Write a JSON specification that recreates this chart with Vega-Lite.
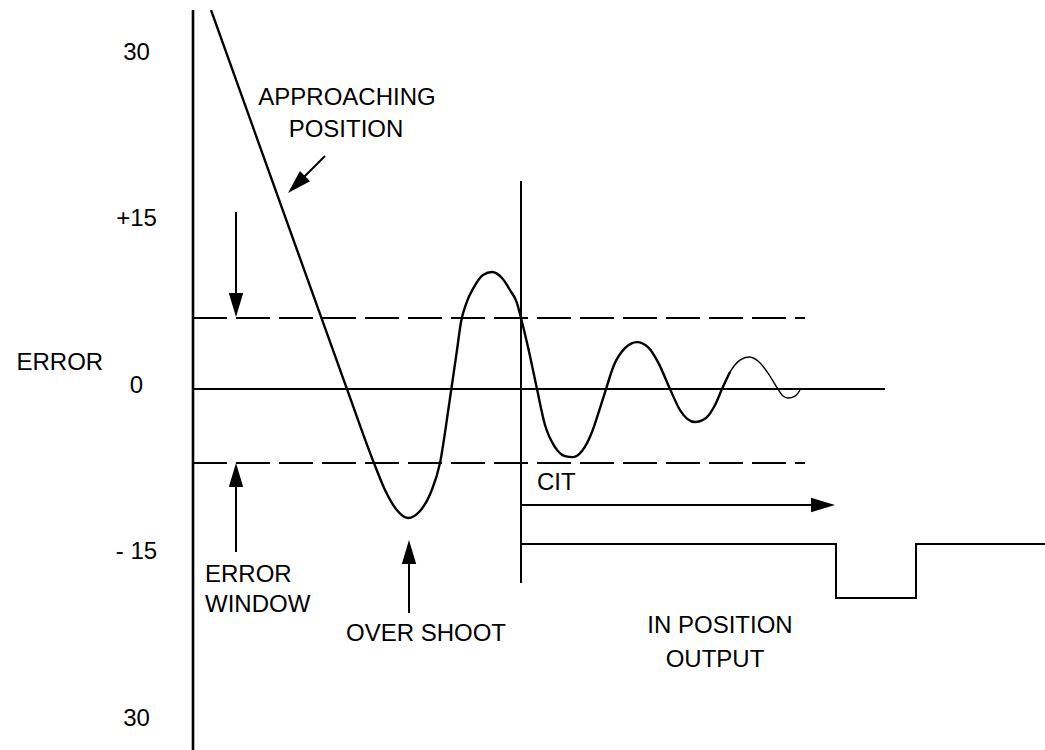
{
  "$schema": "https://vega.github.io/schema/vega-lite/v6.json",
  "autosize": {"type": "none"},
  "padding": {"left": 193, "top": 0, "right": 0, "bottom": 0},
  "width": 852,
  "height": 750,
  "background": "white",
  "config": {"view": {"stroke": null}, "font": "Liberation Sans"},
  "datasets": {
    "curveMain": [
      {"x": 1.8, "y": 34.14}, {"x": 9.8, "y": 14.05}, {"x": 15.4, "y": 0}, {"x": 18.1, "y": -6.67},
      {"x": 19.3, "y": -9.28}, {"x": 20.3, "y": -10.81}, {"x": 21.5, "y": -11.62}, {"x": 22.7, "y": -10.99},
      {"x": 23.8, "y": -9.28}, {"x": 24.7, "y": -6.67}, {"x": 25.6, "y": -1.44}, {"x": 26.4, "y": 3.51},
      {"x": 26.8, "y": 6.04}, {"x": 27.3, "y": 7.66}, {"x": 28.1, "y": 9.19}, {"x": 29.0, "y": 10.27},
      {"x": 29.9, "y": 10.54}, {"x": 30.9, "y": 10.0}, {"x": 31.7, "y": 8.92}, {"x": 32.4, "y": 7.75},
      {"x": 32.8, "y": 6.4}, {"x": 33.5, "y": 3.78}, {"x": 34.4, "y": 0}, {"x": 35.2, "y": -3.24},
      {"x": 36.2, "y": -5.23}, {"x": 37.2, "y": -6.04}, {"x": 38.0, "y": -6.13}, {"x": 38.9, "y": -5.59},
      {"x": 39.9, "y": -3.87}, {"x": 40.7, "y": -1.71}, {"x": 41.3, "y": 0}, {"x": 42.1, "y": 2.16},
      {"x": 43.2, "y": 3.69}, {"x": 44.4, "y": 4.23}, {"x": 45.5, "y": 3.78}, {"x": 46.5, "y": 2.43},
      {"x": 47.7, "y": 0}, {"x": 48.7, "y": -1.89}, {"x": 50.2, "y": -2.97}, {"x": 51.3, "y": -2.61},
      {"x": 52.2, "y": -1.44}, {"x": 52.9, "y": 0}, {"x": 53.7, "y": 1.53}
    ],
    "curveTail": [
      {"x": 52.9, "y": 0}, {"x": 53.7, "y": 1.53}, {"x": 54.7, "y": 2.61}, {"x": 55.6, "y": 2.88},
      {"x": 56.5, "y": 2.52}, {"x": 57.5, "y": 1.44}, {"x": 58.5, "y": 0}, {"x": 59.0, "y": -0.63},
      {"x": 59.5, "y": -0.81}, {"x": 60.2, "y": -0.63}, {"x": 60.7, "y": -0.09}
    ],
    "vRules": [
      {"x": 0, "y": 34.14, "y2": -32.52, "w": 2.6},
      {"x": 32.8, "y": 18.74, "y2": -17.48, "w": 2},
      {"x": 4.3, "y": 15.95, "y2": 8.0, "w": 2},
      {"x": 4.3, "y": -14.68, "y2": -8.0, "w": 2},
      {"x": 21.6, "y": -20.18, "y2": -15.0, "w": 2}
    ],
    "hRules": [
      {"x": 0, "x2": 69.2, "y": 0},
      {"x": 32.8, "x2": 62.0, "y": -10.45}
    ],
    "dashRules": [
      {"x": 0, "x2": 61.2, "y": 6.4},
      {"x": 0, "x2": 61.2, "y": -6.67}
    ],
    "diagRules": [
      {"x": 13.2, "x2": 10.4, "y": 20.99, "y2": 18.47}
    ],
    "output": [
      {"i": 1, "x": 32.8, "y": -13.96},
      {"i": 2, "x": 64.3, "y": -13.96},
      {"i": 3, "x": 64.3, "y": -18.83},
      {"i": 4, "x": 72.3, "y": -18.83},
      {"i": 5, "x": 72.3, "y": -13.96},
      {"i": 6, "x": 85.2, "y": -13.96}
    ],
    "heads": [
      {"x": 4.3, "y": 7.57, "angle": 180},
      {"x": 4.3, "y": -7.75, "angle": 0},
      {"x": 21.6, "y": -14.68, "angle": 0},
      {"x": 63.0, "y": -10.45, "angle": 90},
      {"x": 10.35, "y": 18.42, "angle": 225}
    ],
    "labelsCenter": [
      {"x": 15.4, "y": 25.59, "text": "APPROACHING"},
      {"x": 15.3, "y": 22.7, "text": "POSITION"},
      {"x": 23.3, "y": -22.7, "text": "OVER SHOOT"},
      {"x": 52.7, "y": -21.98, "text": "IN POSITION"},
      {"x": 52.2, "y": -25.05, "text": "OUTPUT"}
    ],
    "labelsLeft": [
      {"x": 1.2, "y": -17.39, "text": "ERROR"},
      {"x": 1.2, "y": -20.09, "text": "WINDOW"},
      {"x": 34.4, "y": -9.1, "text": "CIT"}
    ]
  },
  "encoding": {
    "x": {"field": "x", "type": "quantitative", "scale": {"domain": [0, 85.2], "nice": false, "zero": false}, "axis": null},
    "y": {
      "field": "y", "type": "quantitative",
      "scale": {"domain": [-32.52, 35.05], "nice": false, "zero": false},
      "axis": {
        "values": [30, 15, 0, -15, -30],
        "labelExpr": "datum.value == 30 ? '30' : datum.value == 15 ? '+15' : datum.value == 0 ? '0' : datum.value == -15 ? '- 15' : '30'",
        "domain": false, "ticks": false, "tickSize": 0, "grid": false,
        "labelFont": "Liberation Sans", "labelFontSize": 24, "labelColor": "black",
        "labelAlign": "center", "labelBaseline": "middle", "labelPadding": 57, "labelOffset": -4,
        "title": "ERROR", "titleAngle": 0, "titleX": -177, "titleY": 369,
        "titleAlign": "left", "titleBaseline": "alphabetic",
        "titleFont": "Liberation Sans", "titleFontSize": 24, "titleFontWeight": "normal", "titleColor": "black"
      }
    }
  },
  "layer": [
    {"data": {"name": "dashRules"}, "mark": {"type": "rule", "color": "black", "strokeWidth": 2, "strokeDash": [34, 9]},
     "encoding": {"x2": {"field": "x2"}}},
    {"data": {"name": "hRules"}, "mark": {"type": "rule", "color": "black", "strokeWidth": 2},
     "encoding": {"x2": {"field": "x2"}}},
    {"data": {"name": "vRules"}, "mark": {"type": "rule", "color": "black"},
     "encoding": {"y2": {"field": "y2"}, "strokeWidth": {"field": "w", "type": "quantitative", "scale": null}}},
    {"data": {"name": "diagRules"}, "mark": {"type": "rule", "color": "black", "strokeWidth": 2},
     "encoding": {"x2": {"field": "x2"}, "y2": {"field": "y2"}}},
    {"data": {"name": "output"}, "mark": {"type": "line", "color": "black", "strokeWidth": 2},
     "encoding": {"order": {"field": "i", "type": "quantitative"}}},
    {"data": {"name": "curveMain"}, "mark": {"type": "line", "color": "black", "strokeWidth": 2.4, "interpolate": "monotone"},
     "encoding": {}},
    {"data": {"name": "curveTail"}, "mark": {"type": "line", "color": "black", "strokeWidth": 1.4, "interpolate": "monotone"},
     "encoding": {}},
    {"data": {"name": "heads"},
     "mark": {"type": "point", "shape": "M0,-1L0.6,1L-0.6,1Z", "filled": true, "color": "black", "opacity": 1, "size": 576},
     "encoding": {"angle": {"field": "angle", "type": "quantitative", "scale": null}}},
    {"data": {"name": "labelsCenter"},
     "mark": {"type": "text", "align": "center", "baseline": "alphabetic", "font": "Liberation Sans", "fontSize": 24, "color": "black"},
     "encoding": {"text": {"field": "text"}}},
    {"data": {"name": "labelsLeft"},
     "mark": {"type": "text", "align": "left", "baseline": "alphabetic", "font": "Liberation Sans", "fontSize": 24, "color": "black"},
     "encoding": {"text": {"field": "text"}}}
  ]
}
